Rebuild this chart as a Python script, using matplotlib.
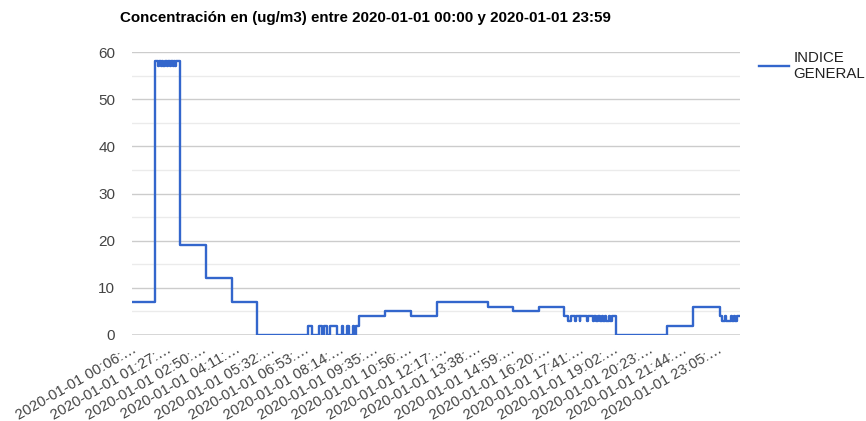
import matplotlib
matplotlib.use('Agg')
from matplotlib import pyplot

pyplot.rcParams['font.family'] = ['Liberation Sans', 'DejaVu Sans']

# change points of the series (HH:MM) and the value from that minute on
times = ['00:06', '01:00', '01:01', '01:08', '01:10', '01:14', '01:16', '01:20',
         '01:23', '01:28', '01:30', '01:35', '01:37', '01:42', '01:44', '01:48',
         '01:50', '01:59', '03:00', '04:01', '05:01', '07:01', '07:10', '07:27',
         '07:34', '07:39', '07:46', '07:52', '08:09', '08:20', '08:23', '08:32',
         '08:37', '08:47', '08:50', '08:54', '09:01', '10:02', '11:03', '12:04',
         '14:05', '15:05', '16:05', '17:04', '17:13', '17:20', '17:29', '17:32',
         '17:41', '17:43', '17:58', '18:00', '18:12', '18:16', '18:20', '18:24',
         '18:30', '18:33', '18:36', '18:40', '18:42', '18:50', '18:52', '18:58',
         '19:07', '21:06', '22:08', '23:12', '23:16', '23:24', '23:27', '23:38',
         '23:40', '23:46', '23:48', '23:52', '23:59']
values = [7, 28, 58, 57, 58, 57, 58, 57,
          58, 57, 58, 57, 58, 57, 58, 57,
          58, 19, 12, 7, 0, 2, 0, 2,
          0, 2, 0, 2, 0, 2, 0, 2,
          0, 2, 0, 2, 4, 5, 4, 7,
          6, 5, 6, 4, 3, 4, 3, 4,
          3, 4, 3, 4, 3, 4, 3, 4,
          3, 4, 3, 4, 3, 4, 3, 4,
          0, 2, 6, 4, 3, 4, 3, 4,
          3, 4, 3, 4, 4]

tick_times = ['00:06', '01:27', '02:50', '04:11', '05:32', '06:53', '08:14',
              '09:35', '10:56', '12:17', '13:38', '14:59', '16:20', '17:41',
              '19:02', '20:23', '21:44', '23:05']
tick_labels = ['2020-01-01 ' + t + ':\u2026' for t in tick_times]

title = 'Concentración en (ug/m3) entre 2020-01-01 00:00 y 2020-01-01 23:59'
series_name = 'INDICE\nGENERAL'


def to_min(t):
    h, m = t.split(':')
    return int(h) * 60 + int(m)


x = [to_min(t) for t in times]
ticks = [to_min(t) for t in tick_times]

fig = pyplot.figure(figsize=(8.66, 4.21), dpi=100)
ax = fig.add_axes([132 / 866, 86 / 421, 608 / 866, 283 / 421])

for y in range(5, 60, 10):
    ax.axhline(y, color='#ebebeb', lw=1, zorder=0)
for y in range(10, 61, 10):
    ax.axhline(y, color='#cccccc', lw=1, zorder=0)
ax.axhline(0, color='#333333', lw=1, zorder=1)

line, = ax.plot(x, values, drawstyle='steps-post', color='#3366cc', lw=1.7,
                zorder=3, label=series_name)

ax.set_xlim(x[0], x[-1])
ax.set_ylim(0, 60)
ax.set_yticks(range(0, 61, 10))
ax.set_xticks(ticks)
ax.set_xticklabels(tick_labels, rotation=30, ha='right', rotation_mode='anchor')
ax.tick_params(axis='y', length=0, labelsize=11, colors='#444444', pad=12)
ax.tick_params(axis='x', length=0, labelsize=10.6, colors='#444444', pad=5)
for s in ax.spines.values():
    s.set_visible(False)

fig.text(120 / 866, 1 - 18 / 421, title, fontsize=10.9, weight='bold',
         va='center', ha='left', color='#000000')

fig.legend(handles=[line], loc='upper left', bbox_to_anchor=(759 / 866, 1 - 51 / 421),
           frameon=False, fontsize=10.8, handlelength=2.0, handletextpad=0.3,
           labelcolor='#222222', borderaxespad=0, borderpad=0, labelspacing=0)

fig.savefig('out.png', dpi=100)
